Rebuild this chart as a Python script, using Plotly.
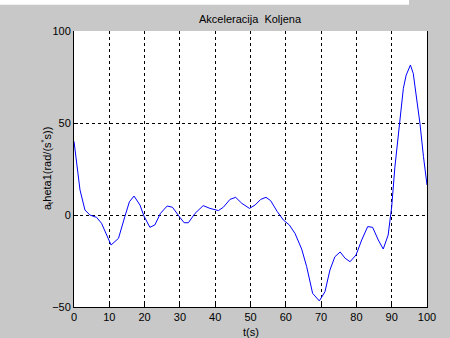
import plotly.graph_objects as go

t_s = [0, 0.75, 1.7, 3.1, 4.5, 6.4, 7.8, 10.5, 12.6, 14.4, 15.7, 17, 18.7, 19.8, 21.5, 22.9,
       24.5, 26.4, 27.9, 30, 31.2, 32.4, 34.3, 36.6, 38.5, 40.9, 42.3, 44.2, 45.8, 47.5,
       49.7, 51.3, 52.9, 54.4, 55.7, 57.6, 59.3, 61, 62.6, 64.5, 65.9, 67.6, 69.5, 71.1,
       72.5, 73.9, 75.4, 76.8, 78.2, 79.9, 81.5, 83.2, 84.6, 86.2, 87.6, 89, 90, 90.9,
       92.2, 93.3, 94.1, 95.3, 96.1, 97.1, 98, 99, 100]
accel = [40, 28, 13.6, 2.7, 0, -1.3, -4.5, -16.3, -12.7, -0.9, 7.2, 10.3, 5.4, -0.5, -6.7, -5.4,
         0.9, 4.9, 4.2, -1.3, -4.2, -4.2, 0.9, 5.1, 3.6, 2.4, 4.2, 8.5, 9.6, 6.4,
         3.6, 5.4, 8.5, 9.6, 7.8, 1.8, -2.7, -5.4, -10, -18.5, -28, -42.6, -46.7, -41.7,
         -29.9, -22.7, -20.1, -23.5, -25.4, -21.7, -13.6, -6.3, -6.7, -13.6, -18.5, -10.9, 4.5, 26,
         48, 68.8, 76, 81.5, 77, 64, 49.8, 31.7, 16.3]

x_ticks = [0, 10, 20, 30, 40, 50, 60, 70, 80, 90, 100]
y_ticks = [-50, 0, 50, 100]

title_text = "Akceleracija&nbsp; Koljena"
x_label = "t(s)"
y_label = "a<sub>t</sub>heta1(rad/(s<sup>*</sup>s))"

FONT = "Liberation Sans, Arial, sans-serif"
BG = "#c8c8c8"

fig = go.Figure()
fig.add_trace(go.Scatter(x=t_s, y=accel, mode="lines",
                         line=dict(color="#0000ff", width=1), showlegend=False))

fig.update_layout(
    width=450, height=338,
    margin=dict(l=74, r=23, t=31, b=31),
    paper_bgcolor=BG, plot_bgcolor="white",
    font=dict(family=FONT, size=10, color="black"),
    xaxis=dict(range=[0, 100], tickvals=x_ticks, ticks="inside", ticklen=4,
               tickcolor="black", showline=True, linecolor="black", linewidth=1,
               mirror=False, showgrid=True, gridcolor="black", gridwidth=1,
               griddash="3px,3px", zeroline=False, tickfont=dict(size=11)),
    yaxis=dict(range=[-50, 100], tickvals=y_ticks, ticks="inside", ticklen=4,
               tickcolor="black", showline=True, linecolor="black", linewidth=1,
               mirror=True, showgrid=True, gridcolor="black", gridwidth=1,
               griddash="3px,3px", zeroline=False, tickfont=dict(size=11)),
    shapes=[dict(type="rect", xref="paper", yref="paper",
                 x0=-0.21, x1=0.949, y0=1.0953, y1=1.13,
                 fillcolor="white", line=dict(width=0), layer="above")],
    annotations=[
        dict(text=title_text, xref="paper", yref="paper", x=0.5, y=(307 - 19) / 276,
             xanchor="center", yanchor="middle", showarrow=False, font=dict(size=11)),
        dict(text=x_label, xref="paper", yref="paper", x=0.5, y=(307 - 332) / 276,
             xanchor="center", yanchor="middle", showarrow=False, font=dict(size=11)),
        dict(text=y_label, xref="paper", yref="paper", x=(47 - 74) / 353, y=0.5,
             xanchor="center", yanchor="middle", textangle=-90, showarrow=False,
             font=dict(size=11)),
    ],
)

fig.write_html("out.html")
